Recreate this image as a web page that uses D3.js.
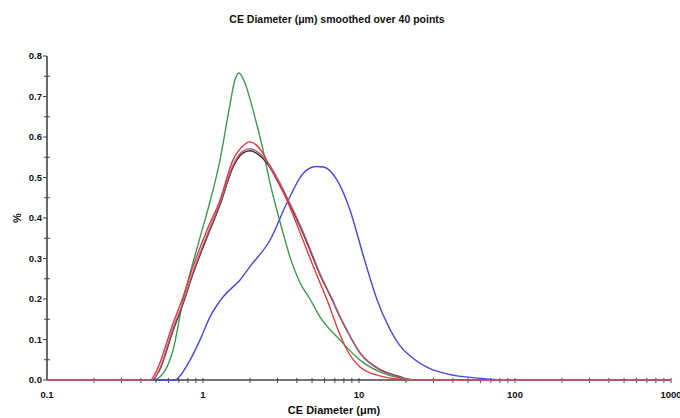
<!DOCTYPE html>
<html>
<head>
<meta charset="utf-8">
<script src="https://cdn.jsdelivr.net/npm/d3@7"></script>
<style>
  html, body { margin: 0; padding: 0; background: #fff; }
  svg { display: block; font-family: "Liberation Sans", Arial, sans-serif; }
</style>
</head>
<body>
<svg id="chart" width="680" height="418"></svg>
<script>
// Particle size distributions, CE diameter (µm) vs % of particles
const diameterDomain = [0.1, 1000];
const percentDomain = [0, 0.8];
const xTickLabels = ["0.1", "1", "10", "100", "1000"];
const yTickLabels = ["0.0", "0.1", "0.2", "0.3", "0.4", "0.5", "0.6", "0.7", "0.8"];

const greenDiameter = [0.1, 0.47, 0.507, 0.643, 0.745, 0.863, 1.0, 1.109, 1.285, 1.489, 1.6, 1.7, 1.85, 2.09, 2.42, 2.69, 3.12, 3.61, 4.19, 4.85, 5.62, 7.55, 10.15, 13.6, 18.3, 25, 1000];
const greenPercent  = [0, 0, 0.003, 0.074, 0.198, 0.29, 0.378, 0.44, 0.543, 0.68, 0.74, 0.758, 0.735, 0.667, 0.57, 0.486, 0.39, 0.304, 0.24, 0.2, 0.156, 0.099, 0.049, 0.02, 0.005, 0, 0];

const redDiameter = [0.1, 0.46, 0.5, 0.643, 0.745, 0.863, 1.06, 1.285, 1.556, 1.8, 2.0, 2.2, 2.42, 2.685, 3.45, 4.38, 4.64, 5.62, 6.24, 7.22, 8.38, 10.15, 13.6, 18.3, 25, 1000];
const redPercent  = [0, 0, 0.02, 0.14, 0.205, 0.28, 0.37, 0.444, 0.543, 0.578, 0.588, 0.58, 0.56, 0.526, 0.444, 0.345, 0.32, 0.24, 0.198, 0.131, 0.074, 0.032, 0.01, 0.002, 0, 0];

const blackDiameter = [0.1, 0.47, 0.52, 0.643, 0.745, 0.863, 1.06, 1.285, 1.556, 1.8, 2.0, 2.2, 2.57, 3.45, 4.38, 5.07, 5.62, 6.24, 6.81, 7.22, 8.38, 10.15, 13.6, 18.3, 22, 1000];
const blackPercent  = [0, 0, 0.02, 0.122, 0.188, 0.262, 0.352, 0.432, 0.525, 0.56, 0.566, 0.56, 0.535, 0.448, 0.362, 0.302, 0.26, 0.224, 0.194, 0.172, 0.122, 0.067, 0.026, 0.008, 0, 0];

const mauveDiameter = [0.1, 0.47, 0.52, 0.643, 0.745, 0.863, 1.06, 1.285, 1.556, 1.8, 2.0, 2.2, 2.57, 3.45, 4.38, 5.07, 5.62, 6.24, 6.81, 7.22, 8.38, 10.15, 13.6, 18.3, 22, 1000];
const mauvePercent  = [0, 0, 0.022, 0.128, 0.192, 0.267, 0.357, 0.437, 0.53, 0.565, 0.571, 0.565, 0.54, 0.452, 0.366, 0.306, 0.263, 0.226, 0.196, 0.173, 0.122, 0.066, 0.025, 0.007, 0, 0];

const blueDiameter = [0.1, 0.66, 0.692, 0.826, 0.957, 1.109, 1.343, 1.727, 2.0, 2.685, 3.45, 4.38, 5.3, 5.9, 7.22, 8.75, 10.6, 11.8, 13.0, 15.8, 18.3, 21.5, 28.5, 36.6, 59.7, 86, 1000];
const bluePercent  = [0, 0, 0.005, 0.049, 0.099, 0.156, 0.205, 0.247, 0.28, 0.345, 0.437, 0.51, 0.527, 0.526, 0.494, 0.42, 0.31, 0.25, 0.2, 0.125, 0.085, 0.058, 0.028, 0.015, 0.004, 0, 0];

const seriesNames  = ["green", "blue", "black", "red", "mauve"];
const seriesColors = ["#3f9a4e", "#4848d8", "#3a2a2a", "#e23a3a", "#b0607e"];
const seriesX = [greenDiameter, blueDiameter, blackDiameter, redDiameter, mauveDiameter];
const seriesY = [greenPercent, bluePercent, blackPercent, redPercent, mauvePercent];

const svg = d3.select("#chart");
const plot = { left: 47, right: 671, top: 56, bottom: 380 };

const x = d3.scaleLog().domain(diameterDomain).range([plot.left, plot.right]);
const y = d3.scaleLinear().domain(percentDomain).range([plot.bottom, plot.top]);

const axisColor = "#444";

// Title
svg.append("text")
  .attr("x", 337).attr("y", 23)
  .attr("text-anchor", "middle")
  .attr("font-size", 10.5).attr("font-weight", "bold")
  .attr("fill", "#111")
  .text("CE Diameter (\u03bcm) smoothed over 40 points");

// Y axis: major ticks every 0.1, minor ticks half way
const yAxis = svg.append("g");
yAxis.append("line")
  .attr("x1", plot.left).attr("x2", plot.left)
  .attr("y1", y(0.8)).attr("y2", y(0))
  .attr("stroke", axisColor).attr("stroke-width", 1.6);
yTickLabels.forEach(label => {
  const v = +label;
  yAxis.append("line")
    .attr("x1", plot.left - 4).attr("x2", plot.left)
    .attr("y1", y(v)).attr("y2", y(v))
    .attr("stroke", axisColor).attr("stroke-width", 1);
  yAxis.append("text")
    .attr("x", plot.left - 5).attr("y", y(v) + 3.3)
    .attr("text-anchor", "end")
    .attr("font-size", 9.5).attr("font-weight", "bold").attr("fill", "#111")
    .text(label);
  if (v < 0.8) {
    const m = v + 0.05;
    yAxis.append("line")
      .attr("x1", plot.left - 3).attr("x2", plot.left + 3)
      .attr("y1", y(m)).attr("y2", y(m))
      .attr("stroke", axisColor).attr("stroke-width", 1);
  }
});

svg.append("text")
  .attr("transform", `translate(21,${(y(0) + y(0.8)) / 2}) rotate(-90)`)
  .attr("text-anchor", "middle")
  .attr("font-size", 11).attr("font-weight", "bold").attr("fill", "#111")
  .text("%");

// X axis (log): line, minor ticks at 2..9 per decade, labels at decades
const xAxis = svg.append("g");
xAxis.append("line")
  .attr("x1", plot.left).attr("x2", plot.right)
  .attr("y1", plot.bottom).attr("y2", plot.bottom)
  .attr("stroke", axisColor).attr("stroke-width", 1.6);
const xTicks = x.ticks(40).filter(t => t > diameterDomain[0] * 1.0001 && t <= diameterDomain[1]);
xTicks.forEach(t => {
  xAxis.append("line")
    .attr("x1", x(t)).attr("x2", x(t))
    .attr("y1", plot.bottom - 2).attr("y2", plot.bottom + 3)
    .attr("stroke", axisColor).attr("stroke-width", 1);
});
xTickLabels.forEach(label => {
  xAxis.append("text")
    .attr("x", x(+label)).attr("y", plot.bottom + 18)
    .attr("text-anchor", "middle")
    .attr("font-size", 9.5).attr("font-weight", "bold").attr("fill", "#111")
    .text(label);
});
svg.append("text")
  .attr("x", 334).attr("y", 414)
  .attr("text-anchor", "middle")
  .attr("font-size", 11).attr("font-weight", "bold").attr("fill", "#111")
  .text("CE Diameter (\u03bcm)");

// Distribution curves
const line = d3.line()
  .x(d => x(d[0]))
  .y(d => y(d[1]))
  .curve(d3.curveMonotoneX);

seriesNames.forEach((name, i) => {
  const pts = seriesX[i].map((d, j) => [d, seriesY[i][j]]);
  svg.append("path")
    .datum(pts)
    .attr("class", "series-" + name)
    .attr("fill", "none")
    .attr("stroke", seriesColors[i])
    .attr("stroke-width", 1.4)
    .attr("d", line);
});
</script>
</body>
</html>
